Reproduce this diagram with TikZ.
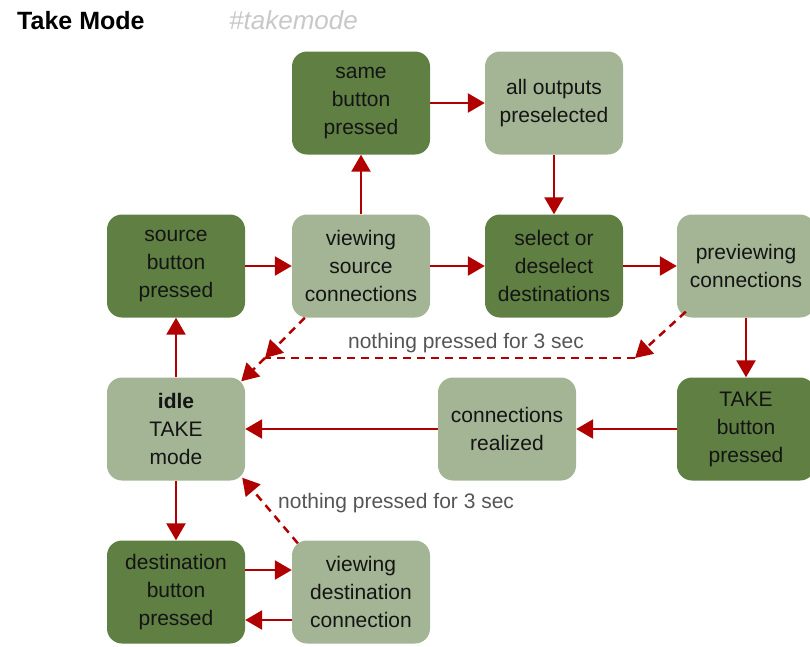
\documentclass[tikz,border=0pt]{standalone}
\usepackage{fontspec}
\setmainfont{Liberation Sans}
\usetikzlibrary{arrows.meta,calc}
\definecolor{dkg}{HTML}{5F7F43}
\definecolor{ltg}{HTML}{A3B594}
\definecolor{arr}{HTML}{B00000}
\definecolor{lblc}{HTML}{555555}
\definecolor{tagc}{HTML}{C8C8C8}
\begin{document}
\begin{tikzpicture}[x=1pt,y=-1pt,
  box/.style={rounded corners=15pt, minimum width=138pt, minimum height=103pt, inner sep=0pt,
    align=center, font=\fontsize{21}{28}\selectfont, text=black!92},
  darkbox/.style={box, fill=dkg},
  lightbox/.style={box, fill=ltg},
  flow/.style={draw=arr, line width=2.5pt, -{Triangle[length=17pt,width=19pt]}},
  dflow/.style={draw=arr, line width=2.5pt, dash pattern=on 8pt off 6pt, -{Triangle[length=17pt,width=19pt]}},
  dline/.style={draw=arr, line width=2.5pt, dash pattern=on 8pt off 6pt},
  lbl/.style={font=\fontsize{21}{26}\selectfont, text=lblc, inner sep=0pt}]
\useasboundingbox (0,0) rectangle (810,646);
\node[anchor=base west, inner sep=0pt, font=\fontsize{25}{28}\selectfont\bfseries] (title) at (17,29) {Take Mode};
\node[anchor=base west, inner sep=0pt, font=\fontsize{26}{28}\selectfont\itshape, text=tagc] (tag) at (229,29) {\#takemode};

\node[darkbox] (src) at (176,266) {source\\button\\pressed};
\node[lightbox] (vs) at (361,266) {viewing\\source\\connections};
\node[darkbox] (sel) at (554,266) {select or\\deselect\\destinations};
\node[lightbox] (pv) at (746,266) {previewing\\connections};
\node[darkbox] (same) at (361,103) {same\\button\\pressed};
\node[lightbox] (all) at (554,103) {all outputs\\preselected};
\node[lightbox] (idle) at (176,429) {\textbf{idle}\\TAKE\\mode};
\node[lightbox] (cr) at (507,429) {connections\\realized};
\node[darkbox] (takeb) at (746,429) {TAKE\\button\\pressed};
\node[darkbox] (dst) at (176,592) {destination\\button\\pressed};
\node[lightbox] (vd) at (361,592) {viewing\\destination\\connection};

\coordinate (dl) at (265,358);
\coordinate (dr) at (635,358);

\draw[flow] (src) -- (vs);
\draw[flow] (vs) -- (sel);
\draw[flow] (sel) -- (pv);
\draw[flow] (vs) -- (same);
\draw[flow] (same) -- (all);
\draw[flow] (all) -- (sel);
\draw[flow] (pv) -- (takeb);
\draw[flow] (takeb) -- (cr);
\draw[flow] (cr) -- (idle);
\draw[flow] (idle) -- (src);
\draw[flow] (idle) -- (dst);
\draw[flow] ($(dst.east)+(0,-22)$) -- ($(vd.west)+(0,-22)$);
\draw[flow] ($(vd.west)+(0,28)$) -- ($(dst.east)+(0,28)$);

\draw[dflow] ($(vs.south west)+(13,0)$) -- (dl);
\draw[dflow] ($(pv.south west)+(9,-6)$) -- (dr);
\draw[dline] (dr) -- (dl);
\draw[dflow] (dl) -- ($(idle.north east)+(-4,4)$);
\draw[dflow] ($(vd.north west)+(6,3)$) -- ($(idle.south east)+(-3,-3)$);

\node[lbl] (l1) at (466,343) {nothing pressed for 3 sec};
\node[lbl, anchor=west] (l2) at (278,503) {nothing pressed for 3 sec};
\end{tikzpicture}
\end{document}
